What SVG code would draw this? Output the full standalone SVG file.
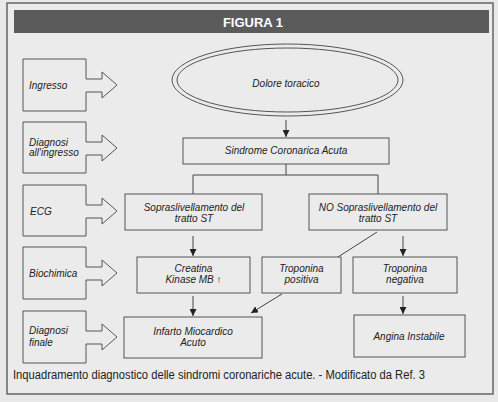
<svg xmlns="http://www.w3.org/2000/svg" width="498" height="402" viewBox="0 0 498 402">
<style>
.bx{fill:#ebebeb;stroke:#555;stroke-width:1}
.ln{fill:none;stroke:#444;stroke-width:1}
.t{font-family:"Liberation Sans",Arial,sans-serif;font-style:italic;font-size:10px;fill:#222}
.c{text-anchor:middle}
</style>
<defs>
<marker id="ah" viewBox="0 0 10 10" refX="10" refY="5" markerWidth="7" markerHeight="7" markerUnits="userSpaceOnUse" orient="auto">
<path d="M0,0 L10,5 L0,10 z" fill="#222"/>
</marker>
</defs>
<rect x="0" y="0" width="498" height="402" fill="#e9e9e9"/>
<rect x="7" y="3" width="486" height="391" fill="#ebebeb" stroke="#666" stroke-width="1.5"/>
<g id="header">
<rect x="14" y="10" width="475" height="23" fill="#5b5b5b"/>
<text x="253" y="26.5" text-anchor="middle" font-family="Liberation Sans,Arial,sans-serif" font-weight="bold" font-size="13" fill="#fff">FIGURA 1</text>
</g>
<g id="lab-ingresso">
<path class="bx" d="M23,59 H86 V79 H102 V72 L117,85 L102,98 V92 H86 V111 H23 Z"/>
<text class="t" x="29" y="89">Ingresso</text>
</g>
<g id="lab-diagnosi-ingresso">
<path class="bx" d="M23,122 H86 V142 H102 V135 L117,148 L102,161 V155 H86 V173 H23 Z"/>
<text class="t" x="29" y="145.5">Diagnosi</text>
<text class="t" x="29" y="156">all'ingresso</text>
</g>
<g id="lab-ecg">
<path class="bx" d="M23,185 H86 V205 H102 V198 L117,211 L102,224 V218 H86 V236 H23 Z"/>
<text class="t" x="30" y="214.5">ECG</text>
</g>
<g id="lab-biochimica">
<path class="bx" d="M23,247 H86 V267 H102 V260 L117,273 L102,286 V280 H86 V299 H23 Z"/>
<text class="t" x="29" y="277">Biochimica</text>
</g>
<g id="lab-diagnosi-finale">
<path class="bx" d="M23,311 H86 V331 H102 V324 L117,337 L102,350 V344 H86 V363 H23 Z"/>
<text class="t" x="29" y="333.5">Diagnosi</text>
<text class="t" x="29" y="345.5">finale</text>
</g>
<g id="connectors">
<line class="ln" x1="286" y1="120" x2="286" y2="137" marker-end="url(#ah)"/>
<polyline class="ln" points="193,194 193,175 378,175 378,194"/>
<line class="ln" x1="286" y1="164" x2="286" y2="175"/>
<line class="ln" x1="193" y1="236" x2="193" y2="256" marker-end="url(#ah)"/>
<line class="ln" x1="193" y1="296" x2="193" y2="316" marker-end="url(#ah)"/>
<line class="ln" x1="377" y1="232" x2="338" y2="257"/>
<line class="ln" x1="403" y1="236" x2="403" y2="256" marker-end="url(#ah)"/>
<line class="ln" x1="403" y1="296" x2="403" y2="314" marker-end="url(#ah)"/>
<line class="ln" x1="282" y1="294" x2="251" y2="313" marker-end="url(#ah)"/>
</g>
<g id="dolore">
<ellipse cx="287.5" cy="80" rx="115.5" ry="36" fill="#ebebeb" stroke="#555" stroke-width="1"/>
<ellipse cx="287.5" cy="80" rx="110.5" ry="32" fill="none" stroke="#555" stroke-width="1"/>
<text class="t c" x="286" y="86.5">Dolore toracico</text>
</g>
<g id="sca">
<rect class="bx" x="183" y="138" width="206" height="26"/>
<text class="t c" x="286" y="154">Sindrome Coronarica Acuta</text>
</g>
<g id="sopra">
<rect class="bx" x="125" y="194" width="137" height="36"/>
<text class="t c" x="194" y="210.5">Sopraslivellamento del</text>
<text class="t c" x="194" y="221.5">tratto ST</text>
</g>
<g id="nosopra">
<rect class="bx" x="309" y="194" width="138" height="36"/>
<text class="t c" x="378" y="210.5">NO Sopraslivellamento del</text>
<text class="t c" x="378" y="221.5">tratto ST</text>
</g>
<g id="creatina">
<rect class="bx" x="137" y="257" width="113" height="36"/>
<text class="t c" x="193.5" y="271.5">Creatina</text>
<text class="t c" x="193.5" y="282.5">Kinase MB ↑</text>
</g>
<g id="tropos">
<rect class="bx" x="262" y="257" width="79" height="36"/>
<text class="t c" x="301.5" y="271.5">Troponina</text>
<text class="t c" x="301.5" y="283">positiva</text>
</g>
<g id="troneg">
<rect class="bx" x="353" y="257" width="104" height="36"/>
<text class="t c" x="405" y="271.5">Troponina</text>
<text class="t c" x="405" y="283">negativa</text>
</g>
<g id="infarto">
<rect class="bx" x="124" y="317" width="138" height="41"/>
<text class="t c" x="193" y="334.5">Infarto Miocardico</text>
<text class="t c" x="193" y="345.5">Acuto</text>
</g>
<g id="angina">
<rect class="bx" x="354" y="315" width="111" height="42"/>
<text class="t c" x="409" y="339.5">Angina Instabile</text>
</g>
<text x="13" y="379" font-family="Liberation Sans,Arial,sans-serif" font-size="12" fill="#222" textLength="412" lengthAdjust="spacingAndGlyphs">Inquadramento diagnostico delle sindromi coronariche acute. - Modificato da Ref. 3</text>
</svg>
